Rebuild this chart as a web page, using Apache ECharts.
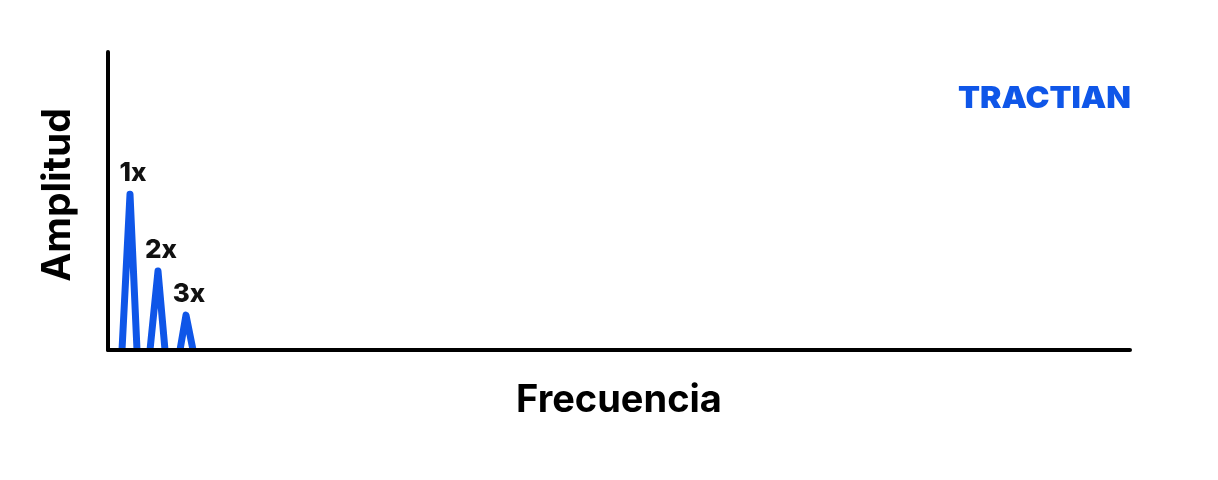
<!DOCTYPE html>
<html>
<head>
<meta charset="utf-8">
<script src="https://cdn.jsdelivr.net/npm/echarts@6/dist/echarts.min.js"></script>
<style>html,body{margin:0;padding:0;background:#fff}#c{width:1218px;height:480px}</style>
</head>
<body>
<div id="c"></div>
<script>
// Spectrum peaks (frequency units, amplitude %)
const harmonicLabels = ['1x', '2x', '3x'];
const peakFreq = [22, 50, 78];
const peakAmp = [52.3, 26.5, 11.7];
const legLeftFreq = [14, 42, 72];
const legRightFreq = [29, 57, 85];
const xAxisName = 'Frecuencia';
const yAxisName = 'Amplitud';
const brand = 'TRACTIAN';

const lineData = [];
for (let i = 0; i < peakFreq.length; i++) {
  lineData.push([legLeftFreq[i], 0]);
  lineData.push({ value: [peakFreq[i], peakAmp[i]], label: { show: true, formatter: harmonicLabels[i] } });
  lineData.push([legRightFreq[i], 0]);
  if (i < peakFreq.length - 1) lineData.push([(legRightFreq[i] + legLeftFreq[i + 1]) / 2, null]);
}

const chart = echarts.init(document.getElementById('c'));
const FONT = 'Inter';
chart.setOption({
  animation: false,
  grid: { left: 108, right: 88, top: 52, bottom: 130 },
  xAxis: {
    type: 'value', min: 0, max: 1022, z: 5,
    name: xAxisName, nameLocation: 'middle', nameGap: 32,
    nameTextStyle: { fontFamily: FONT, fontWeight: 700, fontSize: 38, color: '#000' },
    axisLine: { show: true, lineStyle: { color: '#000', width: 4 } },
    axisTick: { show: false }, axisLabel: { show: false }, splitLine: { show: false }
  },
  yAxis: {
    type: 'value', min: 0, max: 100, z: 5,
    name: yAxisName, nameLocation: 'middle', nameGap: 30,
    nameTextStyle: { fontFamily: FONT, fontWeight: 700, fontSize: 39, color: '#000', padding: [0, 0, 0, 12] },
    axisLine: { show: true, lineStyle: { color: '#000', width: 4 } },
    axisTick: { show: false }, axisLabel: { show: false }, splitLine: { show: false }
  },
  series: [{
    type: 'line',
    data: lineData,
    connectNulls: false,
    symbol: 'circle',
    symbolSize: 0,
    showSymbol: true,
    lineStyle: { color: '#0f56e8', width: 7, join: 'round', cap: 'butt' },
    itemStyle: { color: '#0f56e8' },
    label: {
      show: false, position: 'top', distance: 8, offset: [3, 0],
      fontFamily: FONT, fontWeight: 800, fontSize: 26, color: '#111'
    }
  }],
  graphic: [{
    type: 'text', left: 958, top: 84, scaleX: 1.07,
    style: { text: brand, fontFamily: FONT, fontWeight: 900, fontSize: 30, fill: '#0f56e8' }
  }]
});
</script>
</body>
</html>
